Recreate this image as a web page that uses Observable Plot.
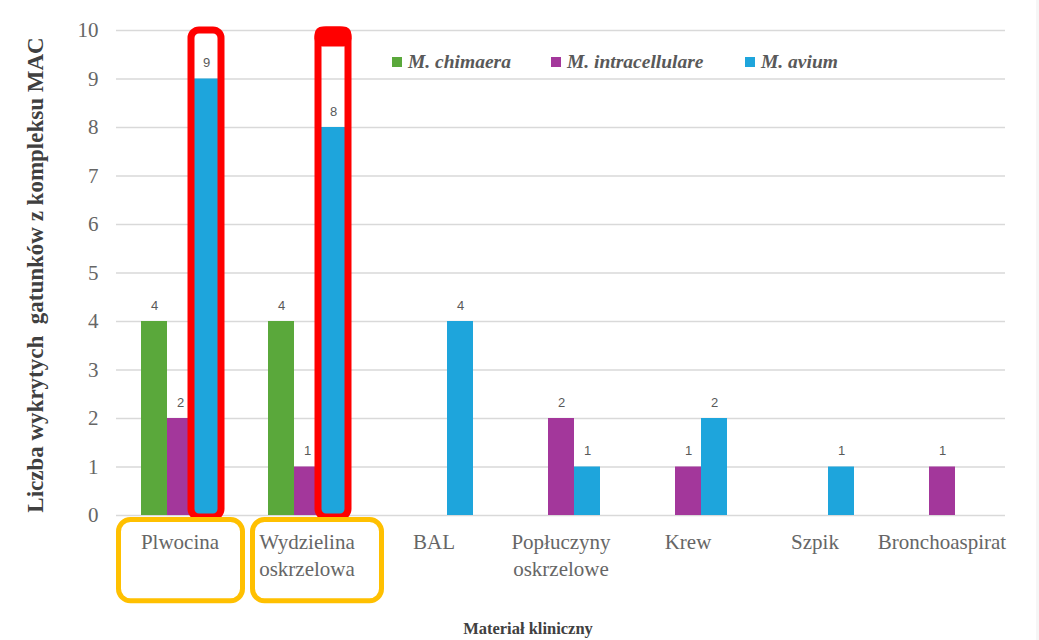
<!DOCTYPE html>
<html><head><meta charset="utf-8">
<script src="https://cdn.jsdelivr.net/npm/d3@7"></script>
<script src="https://cdn.jsdelivr.net/npm/@observablehq/plot@0.6"></script>
<style>
html,body{margin:0;padding:0;background:#fff;}
#wrap{position:relative;width:1039px;height:640px;overflow:hidden;}
.legend{position:absolute;top:50px;font:italic bold 19.5px "Liberation Serif",serif;color:#595959;white-space:nowrap;display:flex;align-items:center;line-height:24px;}
.legend span.sw{display:inline-block;width:10px;height:10px;margin-right:6px;}
#ytitle{position:absolute;left:36px;top:275px;transform:translate(-50%,-50%) rotate(-90deg);font:bold 23px "Liberation Serif",serif;color:#404040;white-space:pre;line-height:26px;}
#xtitle{position:absolute;left:528px;top:629px;transform:translate(-50%,-50%);font:bold 16.5px "Liberation Serif",serif;color:#404040;white-space:nowrap;}
#edge{position:absolute;left:1036px;top:0;width:3px;height:640px;background:#f6f6f6;}
</style></head>
<body><div id="wrap"></div>
<script>
const categories = ["Plwocina", "Wydzielina oskrzelowa", "BAL", "Popłuczyny oskrzelowe", "Krew", "Szpik", "Bronchoaspirat"];
const categoryLabels = ["Plwocina", "Wydzielina\noskrzelowa", "BAL", "Popłuczyny\noskrzelowe", "Krew", "Szpik", "Bronchoaspirat"];
const series = ["M. chimaera", "M. intracellulare", "M. avium"];
const colors = ["#5aa83b", "#a3379b", "#1ea5dc"];
const chimaera = [4, 4, 0, 0, 0, 0, 0];
const intracellulare = [2, 1, 0, 2, 1, 0, 1];
const avium = [9, 8, 4, 1, 2, 1, 0];
const yTicks = [0, 1, 2, 3, 4, 5, 6, 7, 8, 9, 10];
const highlighted = ["Plwocina", "Wydzielina oskrzelowa"];
const legendLeft = [392, 551, 745];
const yTitle = "Liczba wykrytych  gatunków z kompleksu MAC";
const xTitle = "Materiał kliniczny";

const valuesBySeries = [chimaera, intracellulare, avium];
const rows = [];
categories.forEach((c, i) => series.forEach((s, j) => rows.push({category: c, series: s, value: valuesBySeries[j][i]})));
const nonZero = rows.filter(d => d.value > 0);
const redBoxes = rows.filter(d => d.series === "M. avium" && highlighted.includes(d.category));
const labelOf = new Map(categories.map((c, i) => [c, categoryLabels[i]]));

const serif = "Liberation Serif, Times New Roman, serif";
const boxStyle = {fill: "none", stroke: "#ffc000", strokeWidth: 5, rx: 12, y1: -0.093, y2: -1.77};

const chart = Plot.plot({
  width: 1039,
  height: 640,
  marginLeft: 113,
  marginRight: 31,
  marginTop: 30,
  marginBottom: 125,
  style: {background: "transparent", overflow: "visible"},
  fx: {domain: categories, padding: 0, paddingOuter: 0, axis: null},
  x: {domain: series, paddingInner: 0, paddingOuter: 0.87, axis: null},
  y: {domain: [0, 10], ticks: yTicks},
  color: {domain: series, range: colors},
  marks: [
    Plot.gridY(yTicks, {stroke: "#d9d9d9", strokeOpacity: 1, strokeWidth: 1.3}),
    Plot.axisY(yTicks, {tickSize: 0, tickPadding: 18, fontSize: 21, fontFamily: serif, fill: "#666666", label: null}),
    Plot.axisFx({anchor: "bottom", tickSize: 0, tickPadding: 14, fontSize: 21, fontFamily: serif, fill: "#666666", lineHeight: 1.3, label: null, tickFormat: c => labelOf.get(c)}),
    Plot.barY(nonZero, {fx: "category", x: "series", y: "value", fill: "series"}),
    Plot.text(nonZero, {fx: "category", x: "series", y: "value", text: d => String(d.value), dy: -12, lineAnchor: "bottom", fontSize: 13, fontFamily: "Liberation Sans, Arial, sans-serif", fill: "#595959"}),
    Plot.barY(redBoxes, {fx: "category", x: "series", y1: 0, y2: 10, fill: "none", stroke: "#ff0000", strokeWidth: 7, rx: 8, insetLeft: -2, insetRight: -2, insetTop: 0, insetBottom: -2}),
    Plot.barY([redBoxes[1]], {fx: "category", x: "series", y1: 9.66, y2: 10, fill: "#ff0000", rx: 8, insetLeft: -5.5, insetRight: -5.5, insetTop: -3.5}),
    Plot.rect([highlighted[0]], {fx: d => d, ...boxStyle, insetLeft: 2.5, insetRight: 0.5}),
    Plot.rect([highlighted[1]], {fx: d => d, ...boxStyle, insetLeft: 9.5, insetRight: -11.5})
  ]
});

const wrap = document.getElementById("wrap");
wrap.appendChild(chart);

series.forEach((s, i) => {
  const el = document.createElement("div");
  el.className = "legend";
  el.style.left = legendLeft[i] + "px";
  el.innerHTML = `<span class="sw" style="background:${colors[i]}"></span>`;
  el.appendChild(document.createTextNode(s));
  wrap.appendChild(el);
});
const yt = document.createElement("div"); yt.id = "ytitle"; yt.textContent = yTitle; wrap.appendChild(yt);
const xt = document.createElement("div"); xt.id = "xtitle"; xt.textContent = xTitle; wrap.appendChild(xt);
const edge = document.createElement("div"); edge.id = "edge"; wrap.appendChild(edge);
</script>
</body></html>
